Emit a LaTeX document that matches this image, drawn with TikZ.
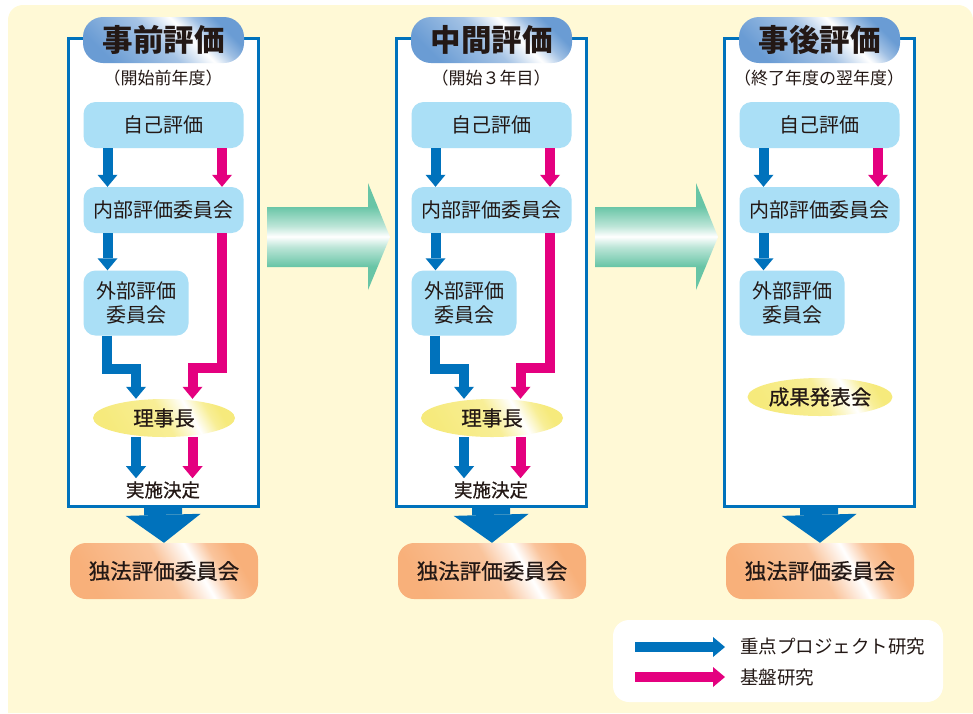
\documentclass[tikz,border=0pt]{standalone}
\usepackage{fontspec}
\setmainfont{Noto Sans CJK JP}
\newfontfamily\medfont[FakeBold=0.7]{Noto Sans CJK JP}
\usetikzlibrary{arrows.meta,calc,shapes.geometric}
\definecolor{cream}{HTML}{FFF9D6}
\definecolor{fblue}{HTML}{0072BC}
\definecolor{fpink}{HTML}{E4007F}
\definecolor{lboxc}{HTML}{AADFF6}
\definecolor{tblue}{HTML}{6A9CD4}
\definecolor{orng}{HTML}{F8B07A}
\definecolor{ylw}{HTML}{F6EA7C}
\definecolor{grn}{HTML}{68C5A6}
\definecolor{txt}{HTML}{231815}
\pgfdeclareverticalshading{ttlshade}{100bp}{color(0bp)=(tblue); color(25bp)=(tblue); color(48bp)=(tblue!60!white); color(60bp)=(white); color(68bp)=(tblue!65!white); color(75bp)=(tblue); color(100bp)=(tblue)}
\pgfdeclareverticalshading{orgshade}{100bp}{color(0bp)=(orng); color(25bp)=(orng); color(50bp)=(orng!75!white); color(61bp)=(white); color(68bp)=(orng!75!white); color(75bp)=(orng); color(100bp)=(orng)}
\pgfdeclareverticalshading{ylwshade}{100bp}{color(0bp)=(ylw); color(25bp)=(ylw); color(50bp)=(ylw!80!white); color(62bp)=(white); color(70bp)=(ylw!80!white); color(75bp)=(ylw); color(100bp)=(ylw)}
\pgfdeclareverticalshading{grnshade}{100bp}{color(0bp)=(grn); color(36bp)=(grn); color(45bp)=(grn!45!white); color(50bp)=(white); color(55bp)=(grn!45!white); color(64bp)=(grn); color(100bp)=(grn)}
\tikzset{
  frame/.style={draw=fblue, line width=3pt, fill=white, minimum width=190, minimum height=468, inner sep=0},
  ttl/.style={shade, shading=ttlshade, shading angle=-45, rounded corners=20pt, minimum width=161, minimum height=46, inner sep=0, text=txt, font=\fontsize{30.5}{36}\selectfont\bfseries},
  subt/.style={text=txt, inner sep=0, font=\fontsize{17}{20}\selectfont},
  lbox/.style={fill=lboxc, rounded corners=12pt, minimum width=160, minimum height=46, inner sep=0, text=txt, font=\fontsize{20}{23.5}\selectfont},
  gbox/.style={lbox, minimum width=105, minimum height=65, align=center},
  ell/.style={ellipse, shade, shading=ylwshade, shading angle=-60, minimum width=142, minimum height=38, inner sep=0, text=txt, font=\fontsize{20.5}{24}\medfont},
  kt/.style={inner sep=3pt, text=txt, font=\fontsize{18.5}{22}\medfont},
  obox/.style={shade, shading=orgshade, shading angle=-60, rounded corners=16pt, minimum width=188, minimum height=56, inner sep=0, text=txt, font=\fontsize{21.5}{25}\medfont},
  barrow/.style={draw=fblue, line width=10pt, line join=miter, -{Triangle[width=20pt, length=12pt, line width=0pt]}},
  parrow/.style={barrow, draw=fpink},
  bigarrow/.style={draw=fblue, line width=38pt, -{Triangle[width=75pt, length=28pt, line width=0pt]}},
  legbox/.style={fill=white, rounded corners=16pt, minimum width=330, minimum height=82, inner sep=0},
  legtxt/.style={anchor=west, inner sep=0, text=txt, font=\fontsize{18.5}{22}\selectfont},
  garrow/.style={shade, shading=grnshade}
}
\begin{document}
\begin{tikzpicture}[x=1pt,y=-1pt]
\useasboundingbox (0,0) rectangle (973,713);
\fill[cream] (973,713) -- (8,713) [rounded corners=15pt] -- (8,5) -- (973,5) [sharp corners] -- cycle;

% green arrows
\foreach \d in {0,328}{
  \shade[garrow, xshift=\d] (267,207) -- (368,207) -- (368,183) -- (390,237) -- (368,290) -- (368,267) -- (267,267) -- cycle;
}

% panels 1 and 2
\foreach \i/\t/\s in {1/事前評価/（開始前年度）, 2/中間評価/（開始３年目）}{
\begin{scope}[xshift={(\i-1)*328}]
  \node[frame] (frame\i) at (163,272) {};
  \node[ttl] (title\i) at (163.5,40) {\t};
  \node[subt] (sub\i) at (163,78) {\s};
  \node[lbox] (jiko\i) at (163.5,125) {自己評価};
  \node[lbox] (naibu\i) at (163.5,210) {内部評価委員会};
  \node[gbox] (gaibu\i) at (136,303) {外部評価\\委員会};
  \node[ell] (riji\i) at (164,418) {理事長};
  \node[kt] (kettei\i) at (163,490) {実施決定};
  \node[obox] (dokuho\i) at (164,571) {独法評価委員会};
  \draw[barrow] ([xshift=-56]jiko\i.south) -- ([xshift=-56]naibu\i.north);
  \draw[parrow] ([xshift=58.5]jiko\i.south) -- ([xshift=58.5]naibu\i.north);
  \draw[barrow] ([xshift=-56]naibu\i.south) -- ([xshift=-28.5]gaibu\i.north);
  \draw[barrow] ([xshift=-29.5]gaibu\i.south) -- ++(0,33) -| ([xshift=-28]riji\i.north);
  \draw[parrow] ([xshift=58.5]naibu\i.south) -- ++(0,135) -| ([xshift=28.5]riji\i.north);
  \draw[barrow] ([xshift=-28]riji\i.south) -- ([xshift=-27]kettei\i.north);
  \draw[parrow] ([xshift=28.5]riji\i.south) -- ([xshift=29.5]kettei\i.north);
  \draw[bigarrow] (frame\i.south) -- (dokuho\i.north);
\end{scope}
}

% panel 3
\begin{scope}[xshift=656]
  \node[frame] (frame3) at (163,272) {};
  \node[ttl] (title3) at (163.5,40) {事後評価};
  \node[subt] (sub3) at (163,78) {（終了年度の翌年度）};
  \node[lbox] (jiko3) at (163.5,125) {自己評価};
  \node[lbox] (naibu3) at (163.5,210) {内部評価委員会};
  \node[gbox] (gaibu3) at (136,303) {外部評価\\委員会};
  \node[ell] (seika3) at (164,397) {成果発表会};
  \node[obox] (dokuho3) at (164,571) {独法評価委員会};
  \draw[barrow] ([xshift=-56]jiko3.south) -- ([xshift=-56]naibu3.north);
  \draw[parrow] ([xshift=58.5]jiko3.south) -- ([xshift=58.5]naibu3.north);
  \draw[barrow] ([xshift=-56]naibu3.south) -- ([xshift=-28.5]gaibu3.north);
  \draw[bigarrow] (frame3.south) -- (dokuho3.north);
\end{scope}

% legend
\node[legbox] (leg) at (778,661) {};
\coordinate (lbs) at (635,647);
\coordinate (lbe) at (725,647);
\coordinate (lps) at (635,677);
\coordinate (lpe) at (725,677);
\draw[barrow] (lbs) -- (lbe);
\draw[parrow] (lps) -- (lpe);
\node[legtxt] (legb) at (740,646) {重点プロジェクト研究};
\node[legtxt] (legp) at (740,677) {基盤研究};
\end{tikzpicture}
\end{document}
